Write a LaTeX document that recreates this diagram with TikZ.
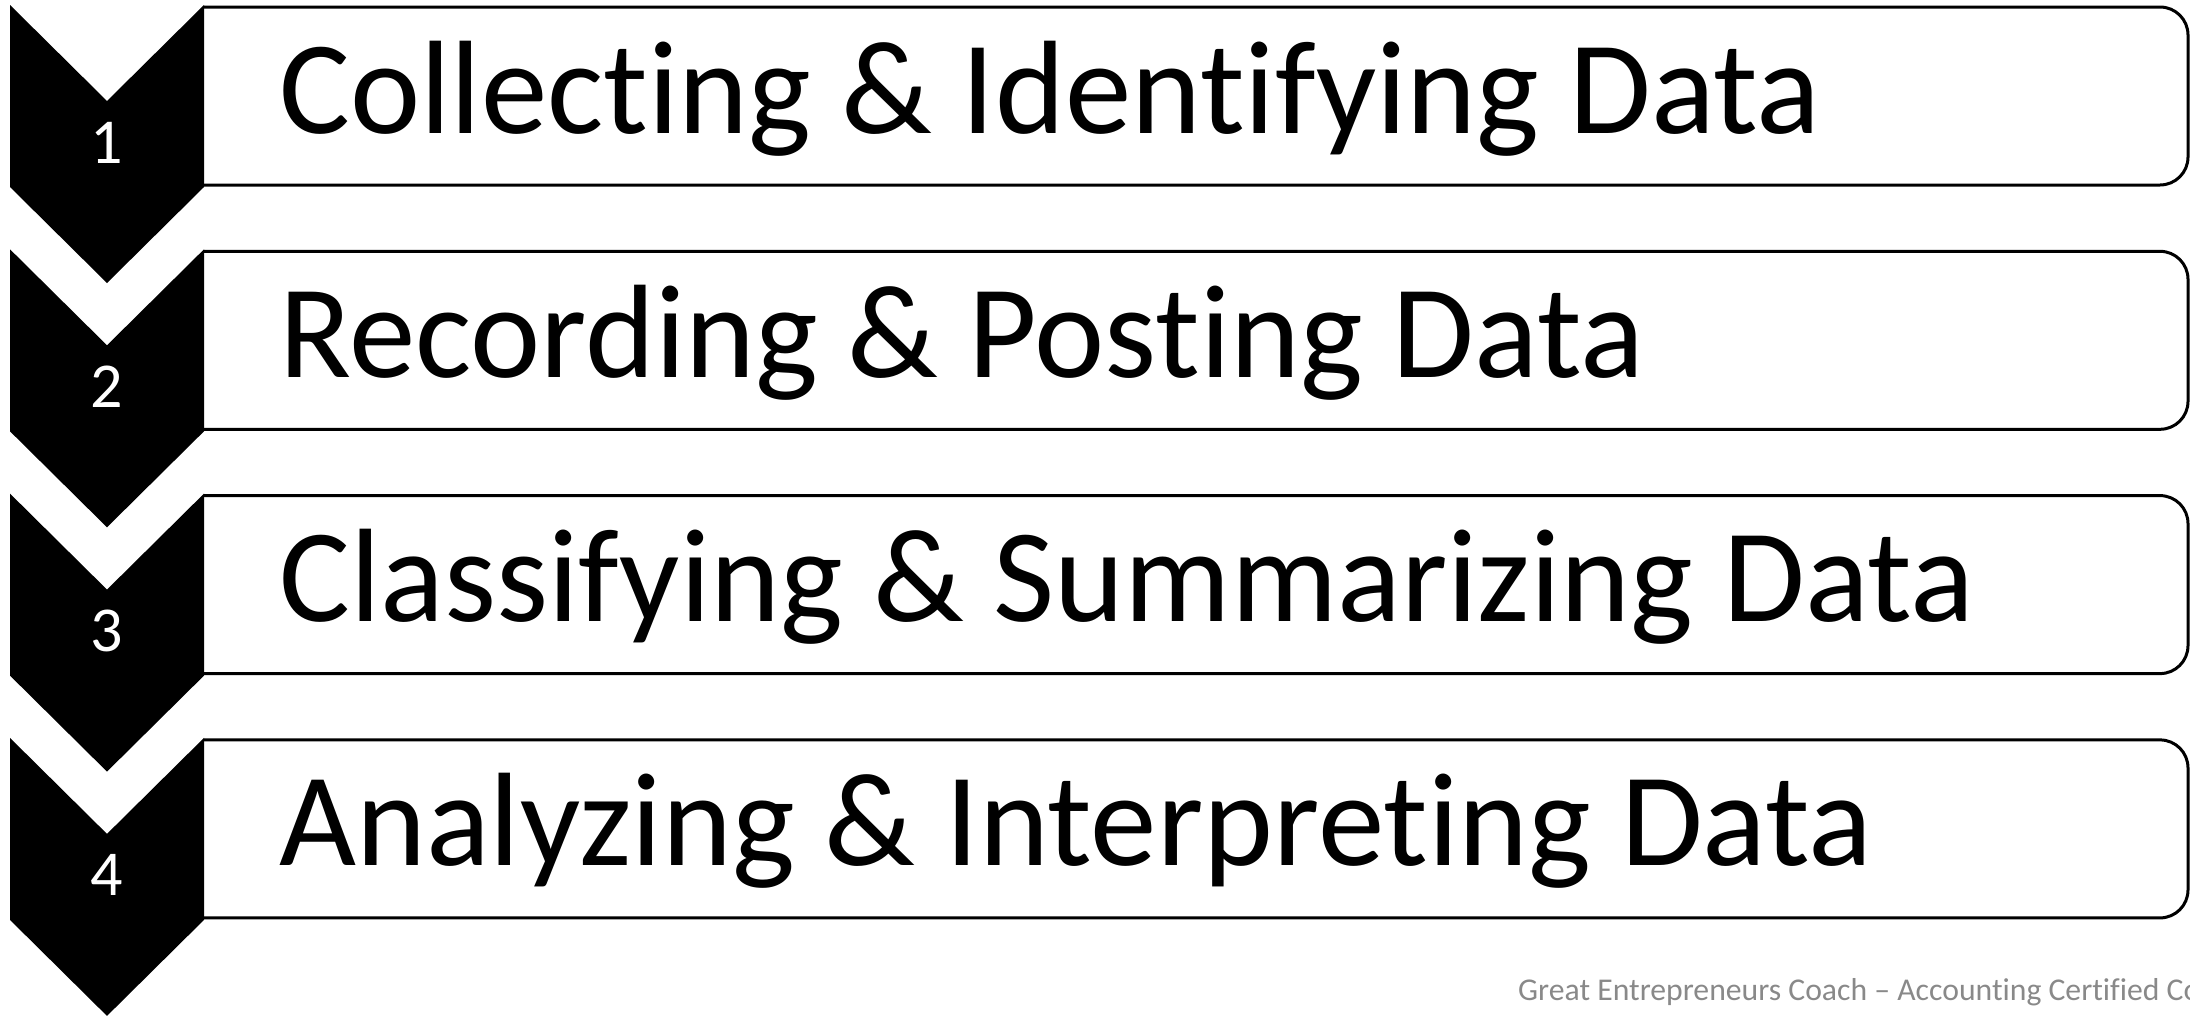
\documentclass[tikz,border=0pt]{standalone}
\usepackage{fontspec}
\setmainfont[Ligatures=NoCommon]{Carlito}
\definecolor{footgray}{HTML}{898989}
\tikzset{
  chevron/.style={fill=black, draw=none},
  stepframe/.style={draw=black, line width=3pt, rounded corners=28pt, fill=white},
  steptext/.style={anchor=base west, inner sep=0pt, font=\fontsize{133}{140}\selectfont},
  stepnum/.style={anchor=base, inner sep=0pt, text=white, font=\fontsize{64}{70}\selectfont},
  foot/.style={anchor=base west, inner sep=0pt, text=footgray, font=\fontsize{31.7}{36}\selectfont}
}
\begin{document}
\begin{tikzpicture}[x=1pt, y=-1pt]
\useasboundingbox (0,0) rectangle (2190,1015);
\clip (0,0) rectangle (2190,1015);
\foreach \i/\label in {1/{Collecting \& Identifying Data},
                       2/{Recording \& Posting Data},
                       3/{Classifying \& Summarizing Data},
                       4/{Analyzing \& Interpreting Data}} {
  \pgfmathsetmacro{\t}{5 + (\i-1)*244.3}
  % framed bar holding the step title
  \path[stepframe] (204,\t+2) -- (2188,\t+2) -- (2188,\t+180) -- (204,\t+180);
  % black chevron marker
  \path[chevron] (10,\t) -- (107,\t+96) -- (204,\t) -- (204,\t+182)
                 -- (107,\t+278) -- (10,\t+182) -- cycle;
  \node[stepnum] (n\i) at (107,\t+158) {\i};
  \node[steptext] (s\i) at (279,\t+128) {\label};
}
\node[foot] (footer) at (1518,1000) {Great Entrepreneurs Coach – Accounting Certified Coach};
\end{tikzpicture}
\end{document}
